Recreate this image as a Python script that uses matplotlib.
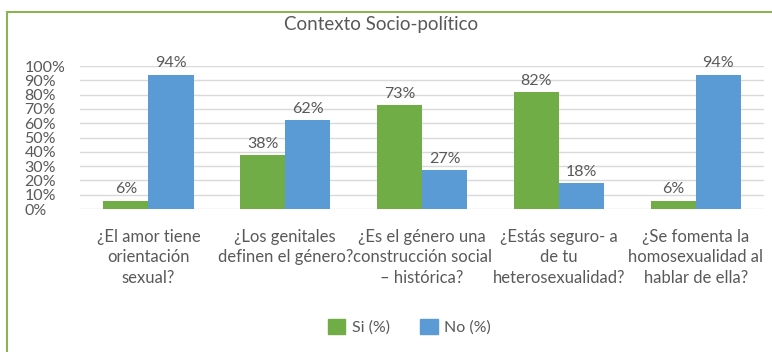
import matplotlib.pyplot as plt
import numpy as np
from matplotlib.lines import Line2D
from matplotlib.patches import Patch

plt.rcParams["font.family"] = ["Lato", "DejaVu Sans"]

categories = [
    "¿El amor tiene\norientación\nsexual?",
    "¿Los genitales\ndefinen el género?",
    "¿Es el género una\nconstrucción social\n– histórica?",
    "¿Estás seguro- a\nde tu\nheterosexualidad?",
    "¿Se fomenta la\nhomosexualidad al\nhablar de ella?",
]
si_pct = [6, 38, 73, 82, 6]
no_pct = [94, 62, 27, 18, 94]
yticks = list(range(0, 101, 10))

GREEN = "#70AD47"
BLUE = "#5B9BD5"
TEXT = "#595959"

fig = plt.figure(figsize=(7.72, 3.52), dpi=100)
ax = fig.add_axes([0.1036, 0.406, 0.8864, 0.4063])

x = np.arange(len(categories))
w = 0.33
bars_si = ax.bar(x - w / 2, si_pct, w, color=GREEN, zorder=3)
bars_no = ax.bar(x + w / 2, no_pct, w, color=BLUE, zorder=3)
for bars in (bars_si, bars_no):
    for b in bars:
        ax.annotate(f"{b.get_height():.0f}%", (b.get_x() + b.get_width() / 2, b.get_height()),
                    xytext=(0, 3), textcoords="offset points", ha="center", va="bottom",
                    fontsize=11.5, color=TEXT)

ax.set_xlim(-0.5, len(categories) - 0.5)
ax.set_ylim(0, 100)
ax.set_yticks(yticks)
ax.set_yticklabels([f"{t}%" for t in yticks], ha="left", fontsize=11.5, color=TEXT)
ax.tick_params(axis="y", length=0, pad=40)
ax.set_xticks(x)
ax.set_xticklabels(categories, fontsize=12, color=TEXT, linespacing=1.38)
ax.tick_params(axis="x", length=0, pad=14)
ax.grid(axis="y", color="#D9D9D9", linewidth=1, zorder=0)
for s in ax.spines.values():
    s.set_visible(False)

fig.text(0.494, 0.929, "Contexto Socio-político", ha="center", va="center", fontsize=13.5, color=TEXT)

# green frame of the original chart box
fig.add_artist(Line2D([0.0095, 1.0], [0.966, 0.966], color="#8DB255", linewidth=1.5))
fig.add_artist(Line2D([0.0095, 0.0095], [0.0, 0.966], color="#8DB255", linewidth=1.5))

handles = [Patch(color=GREEN, label="Si (%)"), Patch(color=BLUE, label="No (%)")]
fig.legend(handles=handles, loc="center", bbox_to_anchor=(0.53, 0.071), ncol=2, frameon=False,
           fontsize=11.5, labelcolor=TEXT, handlelength=1.1, handleheight=1.1,
           handletextpad=0.4, columnspacing=1.9)

fig.savefig("out.png", dpi=100)
